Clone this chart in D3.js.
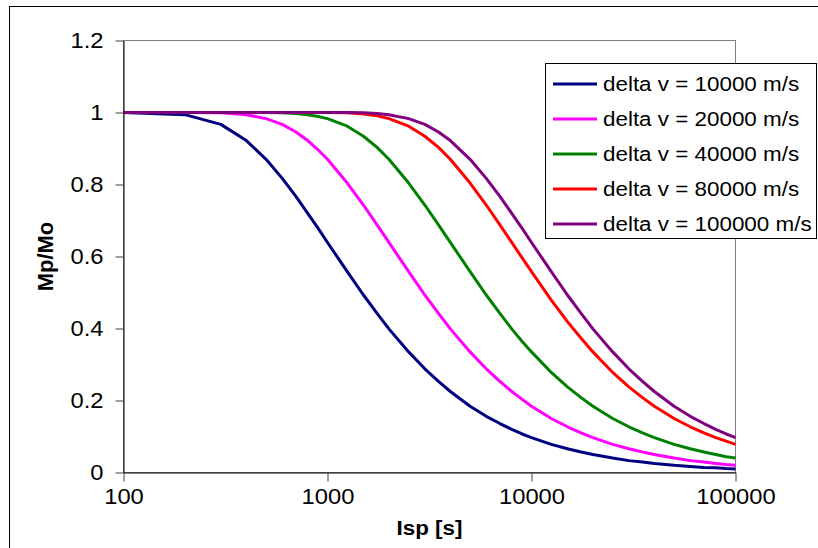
<!DOCTYPE html>
<html>
<head>
<meta charset="utf-8">
<script src="https://cdn.jsdelivr.net/npm/d3@7"></script>
<style>
  html, body { margin: 0; padding: 0; background: #fff; }
  svg { display: block; }
  text { font-family: "Liberation Sans", Arial, sans-serif; fill: #000; }
</style>
</head>
<body>
<svg id="chart" width="818" height="548"></svg>
<script>
// Specific impulse samples (s)
const isp = [100, 200, 300, 400, 500, 600, 700, 800, 900, 1000,
  1250, 1500, 1750, 2000, 2500, 3000, 3500, 4000, 5000, 6000, 7000, 8000, 9000, 10000,
  12500, 15000, 17500, 20000, 25000, 30000, 35000, 40000, 50000, 60000, 70000, 80000, 90000, 100000];

// Propellant mass fraction Mp/Mo for each delta v
const dv10000 = [1.000, 0.994, 0.967, 0.922, 0.870, 0.817, 0.767, 0.720, 0.678, 0.639,
  0.558, 0.493, 0.442, 0.399, 0.335, 0.288, 0.253, 0.225, 0.184, 0.156, 0.136, 0.120, 0.107, 0.097,
  0.078, 0.066, 0.057, 0.050, 0.040, 0.033, 0.029, 0.025, 0.020, 0.017, 0.014, 0.013, 0.011, 0.010];
const dv20000 = [1.000, 1.000, 0.999, 0.994, 0.983, 0.967, 0.946, 0.922, 0.896, 0.870,
  0.804, 0.743, 0.688, 0.639, 0.558, 0.493, 0.442, 0.399, 0.335, 0.288, 0.253, 0.225, 0.203, 0.184,
  0.150, 0.127, 0.110, 0.097, 0.078, 0.066, 0.057, 0.050, 0.040, 0.033, 0.029, 0.025, 0.022, 0.020];
const dv40000 = [1.000, 1.000, 1.000, 1.000, 1.000, 0.999, 0.997, 0.994, 0.989, 0.983,
  0.962, 0.934, 0.903, 0.870, 0.804, 0.743, 0.688, 0.639, 0.558, 0.493, 0.442, 0.399, 0.364, 0.335,
  0.278, 0.238, 0.208, 0.184, 0.150, 0.127, 0.110, 0.097, 0.078, 0.066, 0.057, 0.050, 0.044, 0.040];
const dv80000 = [1.000, 1.000, 1.000, 1.000, 1.000, 1.000, 1.000, 1.000, 1.000, 1.000,
  0.999, 0.996, 0.991, 0.983, 0.962, 0.934, 0.903, 0.870, 0.804, 0.743, 0.688, 0.639, 0.596, 0.558,
  0.479, 0.419, 0.373, 0.335, 0.278, 0.238, 0.208, 0.184, 0.150, 0.127, 0.110, 0.097, 0.087, 0.078];
const dv100000 = [1.000, 1.000, 1.000, 1.000, 1.000, 1.000, 1.000, 1.000, 1.000, 1.000,
  1.000, 0.999, 0.997, 0.994, 0.983, 0.967, 0.946, 0.922, 0.870, 0.817, 0.767, 0.720, 0.678, 0.639,
  0.558, 0.493, 0.442, 0.399, 0.335, 0.288, 0.253, 0.225, 0.184, 0.156, 0.136, 0.120, 0.107, 0.097];

const seriesNames = ["delta v = 10000 m/s", "delta v = 20000 m/s", "delta v = 40000 m/s",
  "delta v = 80000 m/s", "delta v = 100000 m/s"];
const seriesValues = [dv10000, dv20000, dv40000, dv80000, dv100000];
const seriesColors = ["#000080", "#ff00ff", "#008000", "#ff0000", "#800080"];

const xTicks = [100, 1000, 10000, 100000];
const yTicks = [0, 0.2, 0.4, 0.6, 0.8, 1, 1.2];

const svg = d3.select("#chart");

// stretch text horizontally by a factor, keeping its anchor
function widen(sel, k) {
  sel.each(function () {
    const len = this.getComputedTextLength();
    d3.select(this).attr("textLength", len * k).attr("lengthAdjust", "spacingAndGlyphs");
  });
}

// outer chart frame
svg.append("rect")
  .attr("x", 9.5).attr("y", 6.5).attr("width", 830).attr("height", 560)
  .attr("fill", "#fff").attr("stroke", "#000").attr("stroke-width", 1);

const x = d3.scaleLog().domain([100, 100000]).range([123.5, 735.5]);
const y = d3.scaleLinear().domain([0, 1.2]).range([472.5, 40.5]);

// plot area border
svg.append("rect")
  .attr("x", x.range()[0]).attr("y", y.range()[1])
  .attr("width", x.range()[1] - x.range()[0]).attr("height", y.range()[0] - y.range()[1])
  .attr("fill", "#fff").attr("stroke", "#808080").attr("stroke-width", 1);

// series lines: straight segments between samples
const line = d3.line()
  .x((d, i) => x(isp[i]))
  .y(d => y(d));

svg.append("g").selectAll("path")
  .data(seriesValues)
  .join("path")
  .attr("d", d => line(d))
  .attr("fill", "none")
  .attr("stroke", (d, i) => seriesColors[i])
  .attr("stroke-width", 3)
  .attr("stroke-linejoin", "round");

// axes
const xAxis = svg.append("g")
  .attr("transform", `translate(0,${y(0)})`)
  .call(d3.axisBottom(x).tickValues(xTicks).tickFormat(d3.format("d")).tickSize(9).tickPadding(7).tickSizeOuter(0));
const yAxis = svg.append("g")
  .attr("transform", `translate(${x(100)},0)`)
  .call(d3.axisLeft(y).tickValues(yTicks).tickFormat(d => String(+d.toFixed(1))).tickSize(8).tickPadding(12).tickSizeOuter(0));

[xAxis, yAxis].forEach(g => {
  g.select(".domain").attr("stroke", "#000").attr("stroke-width", 1);
  g.selectAll(".tick line").attr("stroke", "#404040");
  g.selectAll(".tick text")
    .attr("font-family", "Liberation Sans, Arial, sans-serif")
    .attr("font-size", 22)
    .attr("fill", "#000");
});
widen(xAxis.selectAll(".tick text"), 1.08);
widen(yAxis.selectAll(".tick text"), 1.08);

// axis titles
svg.append("text")
  .attr("x", (x.range()[0] + x.range()[1]) / 2).attr("y", 535)
  .attr("text-anchor", "middle").attr("font-size", 20).attr("font-weight", "bold")
  .text("Isp [s]")
  .call(widen, 1.12);

svg.append("text")
  .attr("transform", `translate(53,${(y.range()[0] + y.range()[1]) / 2}) rotate(-90)`)
  .attr("text-anchor", "middle").attr("font-size", 22).attr("font-weight", "bold")
  .text("Mp/Mo");

// legend
const legend = svg.append("g");
legend.append("rect")
  .attr("x", 545.5).attr("y", 63.5).attr("width", 271).attr("height", 175)
  .attr("fill", "#fff").attr("stroke", "#000").attr("stroke-width", 1);

const rowY = d3.scalePoint().domain(d3.range(seriesNames.length)).range([84, 224]);
const rows = legend.selectAll("g.row")
  .data(seriesNames)
  .join("g").attr("class", "row")
  .attr("transform", (d, i) => `translate(0,${rowY(i)})`);
rows.append("line")
  .attr("x1", 553).attr("x2", 597).attr("y1", 0).attr("y2", 0)
  .attr("stroke", (d, i) => seriesColors[i]).attr("stroke-width", 3);
rows.append("text")
  .attr("x", 603).attr("y", 0).attr("dy", "0.35em")
  .attr("font-size", 20)
  .text(d => d)
  .call(widen, 1.12);
</script>
</body>
</html>
